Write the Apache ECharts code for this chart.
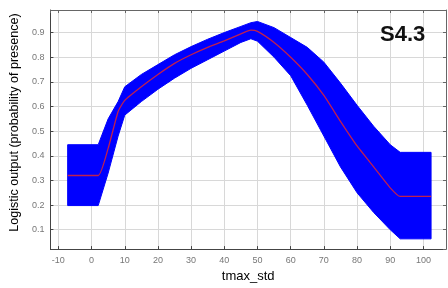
<!DOCTYPE html>
<html>
<head>
<meta charset="utf-8">
<script src="https://cdn.jsdelivr.net/npm/echarts@6/dist/echarts.min.js"></script>
<style>
  html, body { margin: 0; padding: 0; background: #fff; }
  #chart { width: 448px; height: 288px; }
</style>
</head>
<body>
<div id="chart"></div>
<script>
// values
const xs = [-7.2, 2, 5, 8, 10, 15, 20, 25, 30, 35, 40, 45, 48, 50, 55, 60, 65, 70, 75, 80, 85, 90, 93, 102.3];
const lower = [0.198, 0.198, 0.33, 0.48, 0.565, 0.62, 0.67, 0.715, 0.755, 0.79, 0.825, 0.86, 0.875, 0.865, 0.8, 0.725, 0.605, 0.48, 0.355, 0.25, 0.17, 0.1, 0.063, 0.063];
const mean = [0.32, 0.32, 0.43, 0.58, 0.625, 0.68, 0.73, 0.775, 0.81, 0.84, 0.866, 0.895, 0.91, 0.905, 0.86, 0.80, 0.73, 0.645, 0.54, 0.44, 0.355, 0.27, 0.235, 0.235];
const upper = [0.445, 0.445, 0.55, 0.62, 0.68, 0.73, 0.77, 0.81, 0.843, 0.873, 0.9, 0.925, 0.94, 0.945, 0.92, 0.88, 0.84, 0.78, 0.695, 0.605, 0.52, 0.445, 0.414, 0.414];

const chart = echarts.init(document.getElementById('chart'));

const font = 'Arial, Liberation Sans, sans-serif';
const tickLabel = { color: '#777', fontSize: 9, fontFamily: font };
const gridLine = { show: true, lineStyle: { color: '#d8d8d8', width: 1 } };

// band polygon: upper edge left to right, then lower edge back
function renderBand(params, api) {
  if (params.dataIndex !== 0) return null;
  const pts = [];
  for (let i = 0; i < xs.length; i++) pts.push(api.coord([xs[i], upper[i]]));
  for (let i = xs.length - 1; i >= 0; i--) pts.push(api.coord([xs[i], lower[i]]));
  return {
    type: 'polygon',
    shape: { points: pts },
    style: { fill: '#0000ff', stroke: '#0000ff', lineWidth: 1, lineJoin: 'round' }
  };
}

chart.setOption({
  animation: false,
  grid: { left: 47, top: 10, right: 2, bottom: 31 },
  xAxis: [{
    type: 'value', min: -12.4, max: 106.8, splitNumber: 12,
    name: 'tmax_std', nameLocation: 'middle', nameGap: 19,
    nameTextStyle: { color: '#000', fontSize: 13, fontFamily: font },
    axisLine: { show: true, onZero: false, lineStyle: { color: '#444' } },
    axisTick: { show: true, inside: true, length: 3, lineStyle: { color: '#444' } },
    axisLabel: Object.assign({ margin: 7, showMinLabel: false, showMaxLabel: false }, tickLabel),
    splitLine: gridLine
  }, {
    type: 'value', position: 'top', min: -12.4, max: 106.8, splitNumber: 12,
    axisLine: { show: true, onZero: false, lineStyle: { color: '#666' } },
    axisTick: { show: true, inside: true, length: 3, lineStyle: { color: '#666' } },
    axisLabel: { show: false }, splitLine: { show: false }
  }],
  yAxis: [{
    type: 'value', min: 0.0214, max: 0.9916, splitNumber: 10,
    name: 'Logistic output (probability of presence)', nameLocation: 'middle', nameGap: 21,
    nameTextStyle: { color: '#000', fontSize: 12.5, fontFamily: font, padding: [0, 0, 0, 14] },
    axisLine: { show: true, onZero: false, lineStyle: { color: '#444' } },
    axisTick: { show: true, inside: true, length: 3, lineStyle: { color: '#444' } },
    axisLabel: Object.assign({ margin: 6, showMinLabel: false, showMaxLabel: false,
      formatter: v => v.toFixed(1) }, tickLabel),
    splitLine: gridLine
  }, {
    type: 'value', position: 'right', min: 0.0214, max: 0.9916, splitNumber: 10,
    axisLine: { show: true, onZero: false, lineStyle: { color: '#666' } },
    axisTick: { show: true, inside: true, length: 3, lineStyle: { color: '#666' } },
    axisLabel: { show: false }, splitLine: { show: false }
  }],
  series: [{
    type: 'custom',
    renderItem: renderBand,
    data: xs.map((x, i) => [x, upper[i]]),
    encode: { x: 0, y: 1 },
    clip: true,
    z: 2
  }, {
    type: 'line', symbol: 'none', smooth: 0.15,
    data: xs.map((x, i) => [x, mean[i]]),
    lineStyle: { color: '#c0204e', width: 1.3 },
    z: 3
  }],
  graphic: [{
    type: 'text', left: 380, top: 24, z: 100,
    style: { text: 'S4.3', fill: '#111', font: 'bold 22px ' + font }
  }]
});
</script>
</body>
</html>
